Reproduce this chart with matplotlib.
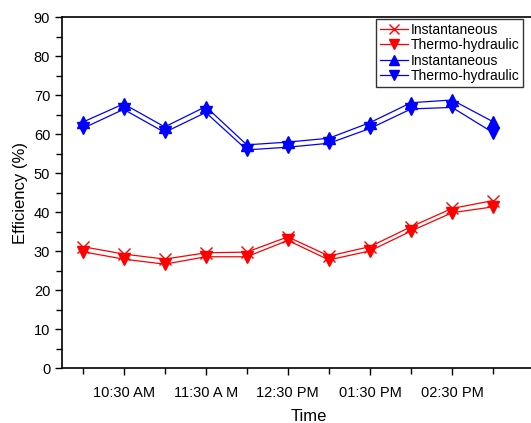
import matplotlib
matplotlib.use("Agg")
import matplotlib.pyplot as plt
from matplotlib.ticker import MultipleLocator

plt.rcParams['font.family'] = ['Liberation Sans', 'DejaVu Sans']

# time of day in hours, every half hour from 10:00 to 15:00
hours = [10.0, 10.5, 11.0, 11.5, 12.0, 12.5, 13.0, 13.5, 14.0, 14.5, 15.0]

red_inst = [31.2, 29.3, 28.0, 29.6, 29.8, 33.7, 28.8, 31.2, 36.3, 41.0, 43.0]
red_thermo = [29.9, 28.0, 26.7, 28.6, 28.6, 32.8, 27.8, 30.1, 35.2, 39.9, 41.4]
blue_inst = [63.1, 67.8, 61.9, 67.1, 57.3, 58.0, 59.0, 63.0, 68.1, 68.8, 63.2]
blue_thermo = [61.5, 66.4, 60.5, 65.6, 56.0, 56.7, 57.7, 61.5, 66.5, 66.9, 60.4]

label_pos = [10.5, 11.5, 12.5, 13.5, 14.5]
label_txt = ["10:30 AM", "11:30 A M", "12:30 PM", "01:30 PM", "02:30 PM"]

fig = plt.figure(figsize=(5.31, 4.23), dpi=100)
# axes runs past the right edge of the figure, like the original export
ax = fig.add_axes([0.1168, 0.1293, 0.928, 0.8298])

ax.plot(hours, red_inst, color='#ff0000', lw=0.9, marker='x', ms=8, mew=1,
        label='Instantaneous')
ax.plot(hours, red_thermo, color='#ff0000', lw=0.9, marker='v', ms=9,
        label='Thermo-hydraulic')
ax.plot(hours, blue_inst, color='#0000ff', lw=0.9, marker='^', ms=9,
        label='Instantaneous')
ax.plot(hours, blue_thermo, color='#0000ff', lw=0.9, marker='v', ms=9,
        label='Thermo-hydraulic')

ax.set_xlim(9.75, 15.75)
ax.set_ylim(0, 90)
ax.set_xticks(label_pos)
ax.set_xticklabels(label_txt)
ax.xaxis.set_minor_locator(MultipleLocator(1.0))
ax.yaxis.set_major_locator(MultipleLocator(10))
ax.yaxis.set_minor_locator(MultipleLocator(5))
ax.tick_params(which='both', direction='out', labelsize=10.5, width=1)
ax.tick_params(which='major', length=5)
ax.tick_params(which='minor', length=4)
ax.tick_params(axis='x', which='both', pad=8)

for s in ax.spines.values():
    s.set_linewidth(1.2)

ax.set_xlabel('Time', fontsize=12, labelpad=6)
ax.set_ylabel('Efficiency (%)', fontsize=12, labelpad=4)

leg = ax.legend(loc='upper right', bbox_to_anchor=(0.936, 0.994), fontsize=10,
                frameon=True, fancybox=False, edgecolor='black',
                handlelength=2.0, handletextpad=0.25, borderpad=0.25,
                labelspacing=0.1, borderaxespad=0, markerscale=0.85)
leg.get_frame().set_linewidth(1)

fig.savefig('out.png', dpi=100)
